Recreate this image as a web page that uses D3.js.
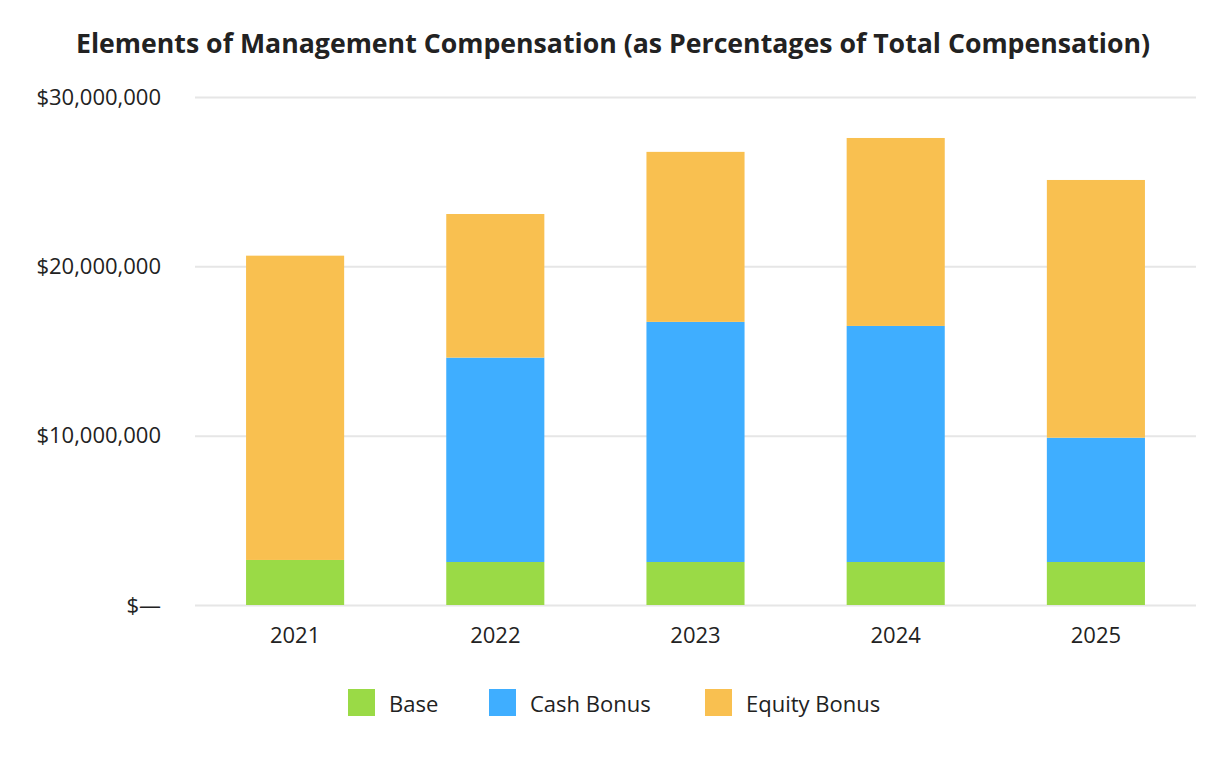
<!DOCTYPE html>
<html><head><meta charset="utf-8">
<script src="https://cdn.jsdelivr.net/npm/d3@7"></script>
<style>body{margin:0;background:#fff}svg{display:block}</style>
</head><body>
<svg id="c" width="1226" height="760"></svg>
<script>
const years = ["2021","2022","2023","2024","2025"];
const base = [2660000, 2540000, 2540000, 2540000, 2540000];
const cashBonus = [0, 12070000, 14180000, 13940000, 7340000];
const equityBonus = [17970000, 8480000, 10040000, 11100000, 15220000];
const seriesNames = ["Base","Cash Bonus","Equity Bonus"];
const seriesColors = ["#9ada46","#3faeff","#f9c050"];
const yTicks = [0, 10000000, 20000000, 30000000];
const title = "Elements of Management Compensation (as Percentages of Total Compensation)";

const font = "'Open Sans', sans-serif";
const svg = d3.select("#c");
const m = {l:195, r:1196, t:97, b:605};
const x = d3.scaleBand().domain(years).range([m.l, m.r]).paddingInner(0.51).paddingOuter(0.255);
const y = d3.scaleLinear().domain([0, 30000000]).range([m.b, m.t]);

svg.append("text").attr("x", 613).attr("y", 53).attr("text-anchor","middle")
  .attr("font-family", font).attr("font-weight","bold").attr("font-size", 26.5).attr("fill","#222")
  .attr("textLength", 1074).attr("lengthAdjust","spacingAndGlyphs")
  .text(title);

const yAxis = d3.axisLeft(y).tickValues(yTicks).tickSize(-(m.r-m.l)).tickPadding(34)
  .tickFormat(d => d === 0 ? "$\u2014" : "$" + d3.format(",")(d));
const ga = svg.append("g").attr("transform", `translate(${m.l},0)`).call(yAxis);
ga.select(".domain").remove();
ga.selectAll(".tick line").attr("stroke","#e6e6e6").attr("stroke-width",2);
ga.selectAll(".tick text").attr("font-family", font).attr("font-size", 22).attr("fill","#222");

const rows = years.map((yr,i)=>({year:yr, "Base":base[i], "Cash Bonus":cashBonus[i], "Equity Bonus":equityBonus[i]}));
const stack = d3.stack().keys(seriesNames)(rows);
svg.append("g").selectAll("g").data(stack).join("g")
  .attr("fill",(d,i)=>seriesColors[i])
  .selectAll("rect").data(d=>d).join("rect")
  .attr("x", d=>x(d.data.year)).attr("width", x.bandwidth())
  .attr("y", d=>y(d[1])).attr("height", d=>Math.max(0, y(d[0])-y(d[1])));

const xAxis = d3.axisBottom(x).tickSize(0).tickPadding(22);
const gx = svg.append("g").attr("transform", `translate(0,${m.b})`).call(xAxis);
gx.select(".domain").remove();
gx.selectAll(".tick text").attr("font-family", font).attr("font-size", 22).attr("fill","#222");

const legX = [348, 489, 705];
const lg = svg.append("g").selectAll("g").data(seriesNames).join("g")
  .attr("transform",(d,i)=>`translate(${legX[i]},689)`);
lg.append("rect").attr("width",27).attr("height",27).attr("fill",(d,i)=>seriesColors[i]);
lg.append("text").attr("x",41).attr("y",15).attr("dy","0.35em")
  .attr("font-family", font).attr("font-size", 22).attr("fill","#222").text(d=>d);
</script>
</body></html>
